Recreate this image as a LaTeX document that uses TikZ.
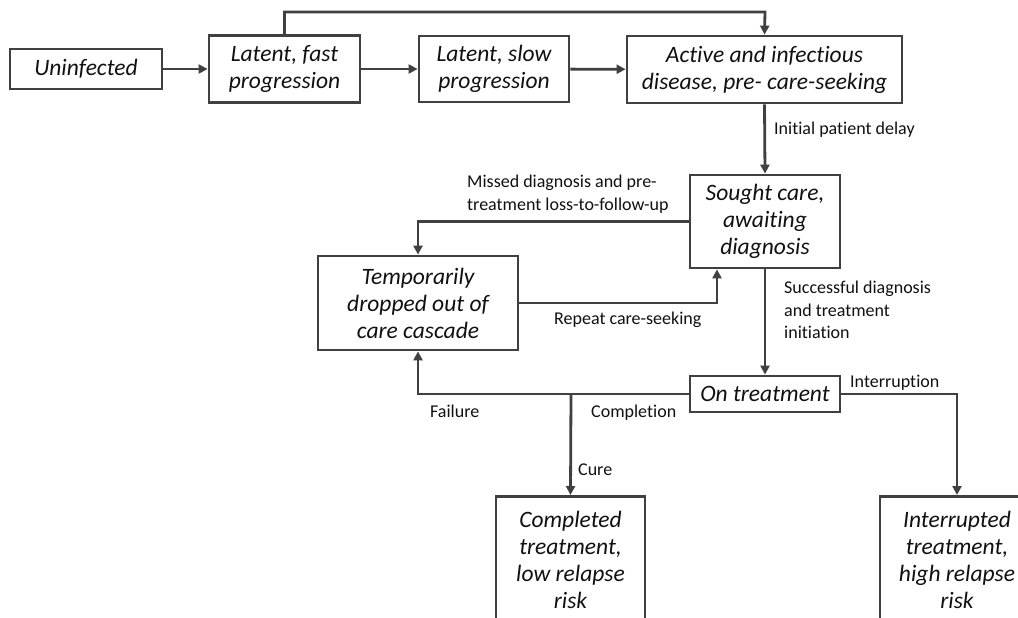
\documentclass[tikz,border=0pt]{standalone}
\usepackage{fontspec}
\setmainfont[Ligatures=NoCommon]{Carlito}
\usetikzlibrary{arrows.meta,calc,positioning}
\definecolor{Edge}{HTML}{404040}
\definecolor{Ink}{HTML}{111111}

\begin{document}
\begin{tikzpicture}[x=1pt,y=-1pt,
      stage/.style={draw=Edge,fill=white,line width=2.8pt,align=center,
                    text=Ink,inner sep=2pt,
                    font=\itshape\fontsize{23.5}{27}\selectfont},
      link/.style={draw=Edge,line width=2.8pt,
                   -{Triangle[length=9pt,width=9pt]}},
      note/.style={text=Ink,align=left,inner sep=0pt,anchor=west,
                   font=\fontsize{18}{22.5}\selectfont}]
    \useasboundingbox (0,0) rectangle (1018,618);
    \clip (0,0) rectangle (1018,618);
    \fill[white] (0,0) rectangle (1018,618);

    % top row: infection and progression
    \node[stage,minimum width=152,minimum height=40] (uninf) at (86,69) {Uninfected};
    \node[stage,minimum width=151,minimum height=67] (fast) at (284.5,69) {Latent, fast\\progression};
    \node[stage,minimum width=150,minimum height=66] (slow) at (494,69) {Latent, slow\\progression};
    \node[stage,minimum width=275,minimum height=67] (active) at (764.5,69.5)
      {Active and infectious\\disease, pre- care-seeking};

    % care cascade
    \node[stage,minimum width=150,minimum height=93] (sought) at (765,221.5)
      {Sought care,\\awaiting\\diagnosis};
    \node[stage,minimum width=200,minimum height=94] (dropped) at (418,303)
      {Temporarily\\dropped out of\\care cascade};
    \node[stage,minimum width=150,minimum height=36] (treat) at (765,394) {On treatment};

    % outcomes (run off the page)
    \node[stage,anchor=north,minimum width=149,minimum height=128] (done) at (570.5,495)
      {Completed\\treatment,\\low relapse\\risk};
    \node[stage,anchor=north,minimum width=154,minimum height=128] (stop) at (957,495)
      {Interrupted\\treatment,\\high relapse\\risk};

    \coordinate (topbend) at (765,12);
    \coordinate (split) at (571,394);

    \draw[link] (uninf) -- (fast);
    \draw[link] (fast) -- (slow);
    \draw[link] (slow) -- (active);
    \draw[link] (fast.north) |- (topbend) -- (active.north);
    \draw[link] (active.south) -- (sought.north);
    \draw[link] (sought.west) -| (dropped.north);
    \draw[link] (dropped.east) -| ([xshift=-48pt]sought.south);
    \draw[link] (sought.south) -- (treat.north);
    \draw[link] (treat.west) -| (dropped.south);
    \draw[link] (split) -- (done.north);
    \draw[link] (treat.east) -| (stop.north);

    \node[note] (delay) at (774,130) {Initial patient delay};
    \node[note] (missed) at (467,194) {Missed diagnosis and pre-\\treatment loss-to-follow-up};
    \node[note] (repeat) at (554,320) {Repeat care-seeking};
    \node[note] (success) at (784,310) {Successful diagnosis\\and treatment\\initiation};
    \node[note] (interrupt) at (850,383) {Interruption};
    \node[note] (failure) at (430,411) {Failure};
    \node[note] (completion) at (591,413) {Completion};
    \node[note] (cure) at (578,470) {Cure};
  \end{tikzpicture}
\end{document}
